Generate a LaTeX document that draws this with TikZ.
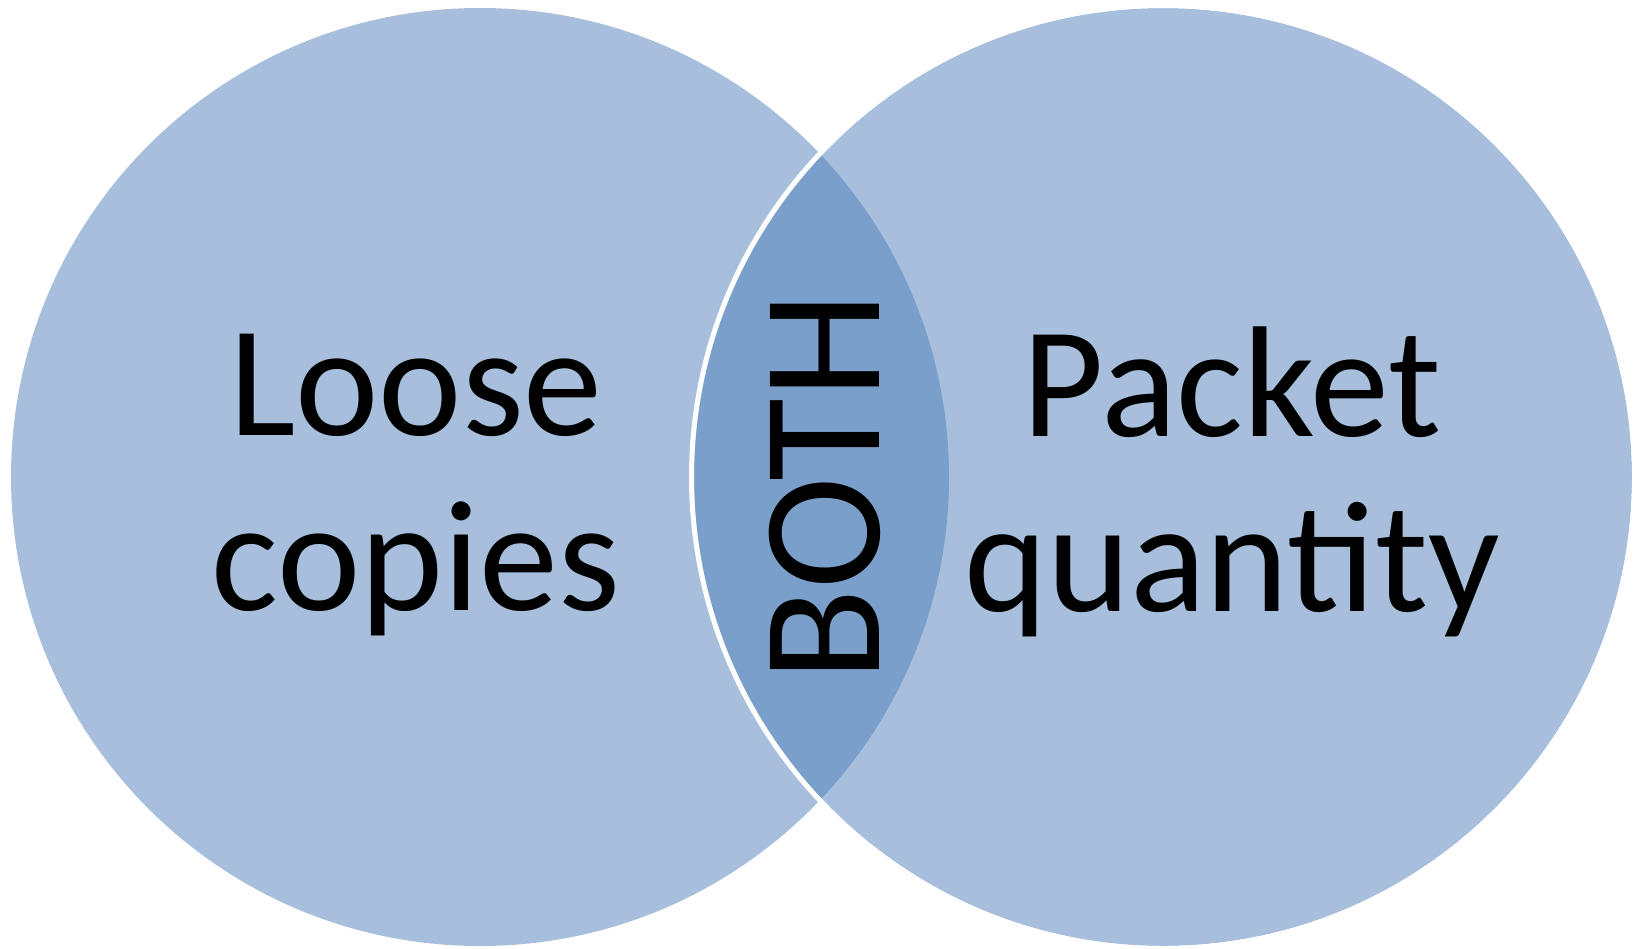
\documentclass[tikz,border=0pt]{standalone}
\usepackage{fontspec}
\setmainfont{Carlito}
\definecolor{setfill}{HTML}{A7BFDD}
\definecolor{bothfill}{HTML}{7B9FCB}
\tikzset{setlabel/.style={align=center,font=\fontsize{158}{175}\selectfont}}

\begin{document}
\begin{tikzpicture}[x=1pt,y=-1pt]
\useasboundingbox (0,0) rectangle (1638,948);
\foreach \x in {480,1163}{
    \fill[setfill] (\x,477) circle (469pt);
}
\begin{scope}
    \clip (480,477) circle (469pt);
    \fill[bothfill] (1163,477) circle (469pt);
\end{scope}
\draw[white,line width=5pt] (1163,477) circle (471.5pt);
\node[setlabel] (loose) at (416,485) {Loose\\copies};
\node[setlabel] (packet) at (1232,482) {Packet\\quantity};
\node[font=\fontsize{170}{170}\selectfont,rotate=90] (both) at (825,487) {BOTH};
\end{tikzpicture}
\end{document}
